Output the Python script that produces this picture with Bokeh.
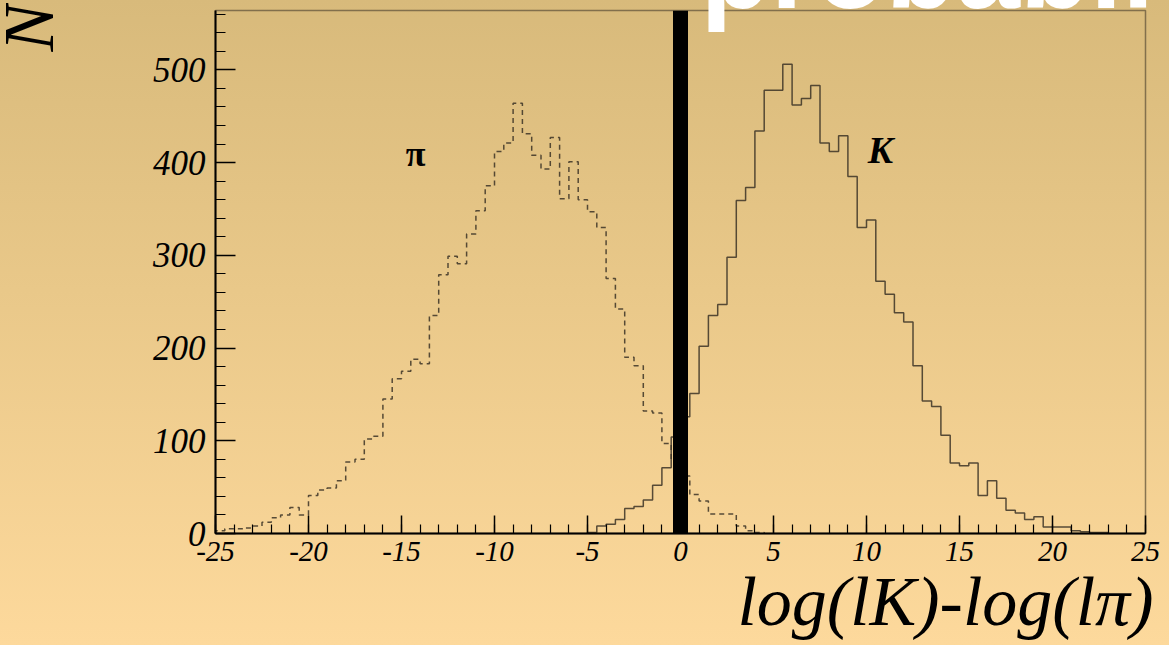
import numpy as np
from bokeh.plotting import figure
from bokeh.models import Label, Span, FixedTicker, Range1d, Title
from bokeh.embed import file_html
from bokeh.resources import INLINE

# ---------------- data ----------------
bin_width = 0.5
pi_start = -25.0
k_start = -5.0
pi_counts = [3, 5, 5, 6, 8, 12, 17, 20, 28, 20,
             41, 47, 49, 57, 77, 80, 102, 105, 145, 167,
             175, 188, 183, 235, 279, 299, 291, 323, 348, 375,
             412, 421, 464, 431, 408, 393, 427, 361, 401, 360,
             347, 330, 275, 242, 190, 181, 132, 130, 97, 80,
             62, 42, 35, 21, 21, 21, 8, 3, 1]
k_counts = [1, 8, 10, 15, 27, 29, 36, 52, 71, 104,
            126, 151, 202, 235, 247, 298, 359, 373, 434, 478,
            478, 506, 462, 469, 483, 421, 412, 429, 385, 330,
            338, 272, 258, 238, 228, 181, 143, 137, 106, 76,
            73, 76, 41, 57, 38, 25, 22, 15, 18, 7,
            7, 7, 3, 2, 1, 1]
x_ticks = [-25, -20, -15, -10, -5, 0, 5, 10, 15, 20, 25]
x_minor = list(range(-25, 26))
y_ticks = [0, 100, 200, 300, 400, 500]
y_minor = list(range(0, 561, 20))
cut_value = 0.0
x_title = "log(lK)-log(lπ)"
y_title = "N"
pi_name = "π"
k_name = "K"
banner = "probabil"

# ---------------- layout ----------------
W, H = 1169, 645
FL, FR, FT, FB = 215, 24, 10, 112
fw = W - FL - FR
fh = H - FT - FB
x0, x1 = -25.0, 25.0
y0, y1 = 0.0, 564.0


def X(px):
    return x0 + (px - FL) * (x1 - x0) / fw


def Y(py):
    return y0 + (H - FB - py) * (y1 - y0) / fh


def try_set(obj, attr, val):
    try:
        setattr(obj, attr, val)
    except Exception:
        pass


p = figure(width=W, height=H, output_backend="svg", toolbar_location=None,
           x_range=Range1d(x0, x1), y_range=Range1d(y0, y1),
           min_border_left=FL, min_border_right=FR,
           min_border_top=FT, min_border_bottom=FB)
p.background_fill_alpha = 0
p.border_fill_alpha = 0
p.grid.visible = False
p.outline_line_color = "#6b5c40"
p.outline_line_width = 1.5
p.outline_line_alpha = 0.8


def outline(start, counts):
    edges = start + bin_width * np.arange(len(counts) + 1)
    xs = np.concatenate([[edges[0]], edges])
    ys = np.concatenate([[0], np.asarray(counts, float), [0]])
    return xs, ys


px_, py_ = outline(pi_start, pi_counts)
p.step(px_, py_, mode="after", line_color="#3b3326", line_width=1.5,
       line_alpha=0.85, line_dash="5 4")
kx_, ky_ = outline(k_start, k_counts)
p.step(kx_, ky_, mode="after", line_color="#3b3326", line_width=1.5,
       line_alpha=0.85)

p.add_layout(Span(location=cut_value, dimension="height",
                  line_color="black", line_width=15))

for ax in (p.xaxis[0], p.yaxis[0]):
    ax.axis_line_color = "black"
    ax.axis_line_width = 2
    ax.major_tick_line_color = "black"
    ax.major_tick_line_width = 1.5
    ax.minor_tick_line_color = "black"
    ax.minor_tick_line_width = 1.2
    ax.major_tick_out = 0
    ax.minor_tick_out = 0
    ax.major_label_text_font = "Liberation Serif"
    ax.major_label_text_font_style = "italic"
    ax.major_label_text_color = "black"

p.xaxis.ticker = FixedTicker(ticks=x_ticks, minor_ticks=x_minor)
p.yaxis.ticker = FixedTicker(ticks=y_ticks, minor_ticks=y_minor)
p.xaxis.major_label_overrides = {t: str(t) for t in x_ticks}
p.yaxis.major_label_overrides = {t: str(t) for t in y_ticks}
p.xaxis.major_tick_in = 18
p.xaxis.minor_tick_in = 9
p.yaxis.major_tick_in = 20
p.yaxis.minor_tick_in = 10
p.xaxis.major_label_text_font_size = "29px"
p.yaxis.major_label_text_font_size = "35px"
p.xaxis.major_label_standoff = 8
p.yaxis.major_label_standoff = 10

# x axis title: a Title below the axis, right aligned
xt = Title(text=x_title, align="right", offset=-8,
           text_font="Liberation Serif", text_font_style="italic",
           text_font_size="70px", text_color="black")
try_set(xt, "standoff", -6)
p.add_layout(xt, "below")

# series names
p.add_layout(Label(x=X(415), y=Y(153), text=pi_name, text_align="center",
                   text_baseline="middle", text_font="Liberation Serif",
                   text_font_style="bold", text_font_size="36px",
                   text_color="black"))
p.add_layout(Label(x=X(880), y=Y(149), text=k_name, text_align="center",
                   text_baseline="middle", text_font="Liberation Serif",
                   text_font_style="bold italic", text_font_size="38px",
                   text_color="black"))


def overlay(width, height, left, top):
    f = figure(width=width, height=height, output_backend="svg",
               toolbar_location=None, x_axis_type=None, y_axis_type=None,
               min_border=0)
    f.background_fill_alpha = 0
    f.border_fill_alpha = 0
    f.outline_line_color = None
    try:
        f.grid.visible = False
    except Exception:
        pass
    f.styles = {"position": "absolute", "left": f"{left}px",
                "top": f"{top}px", "z-index": "5"}
    return f


# y axis title "N": rotated title of a small overlay at the top-left corner
p3 = overlay(100, 90, -12, 3)
yt = Title(text=y_title, align="right", vertical_align="top", offset=0,
           text_font="Liberation Serif", text_font_style="italic",
           text_font_size="72px", text_color="black")
try_set(yt, "standoff", 0)
p3.add_layout(yt, "left")

# banner: white text, shifted up so that only the lower part is in view
p2 = overlay(470, 140, 700, -97)
bt = Title(text=banner, align="left", vertical_align="top", offset=0,
           text_font="Liberation Sans", text_font_style="bold",
           text_font_size="115px", text_color="white")
try_set(bt, "standoff", 0)
p2.add_layout(bt, "above")

html = file_html([p, p2, p3], INLINE, title="histogram")
style = ("<style>html,body{margin:0;padding:0;height:100%;overflow:hidden;"
         "background:linear-gradient(to bottom,#d8ba7b 0%,#e9c889 45%,#fdd99c 100%);}</style>")
html = html.replace("</head>", style + "</head>", 1)
open("out.html", "w").write(html)
